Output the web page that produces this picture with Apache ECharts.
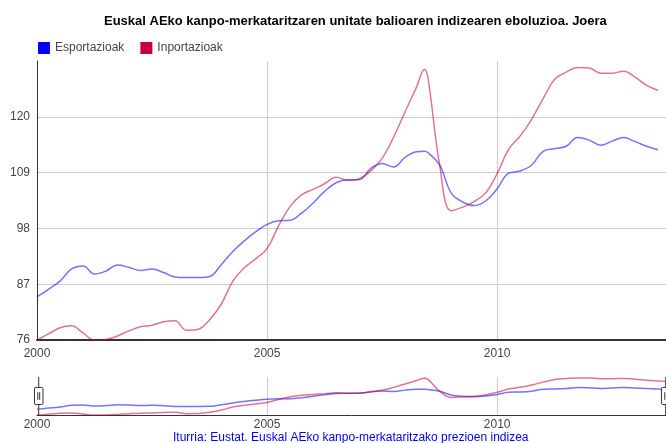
<!DOCTYPE html>
<html>
<head>
<meta charset="utf-8">
<script src="https://cdn.jsdelivr.net/npm/echarts@6/dist/echarts.min.js"></script>
<style>
  html, body { margin: 0; padding: 0; background: #fff; }
  #chart { width: 666px; height: 443px; }
</style>
</head>
<body>
<div id="chart"></div>
<script>
// urteak (hiruhilekoak, gailurrean puntu gehigarri bat)
var years = [
  2000.00, 2000.25, 2000.50, 2000.75, 2001.00, 2001.25, 2001.50, 2001.75,
  2002.00, 2002.25, 2002.50, 2002.75, 2003.00, 2003.25, 2003.50, 2003.75,
  2004.00, 2004.25, 2004.50, 2004.75, 2005.00, 2005.25, 2005.50, 2005.75,
  2006.00, 2006.25, 2006.50, 2006.75, 2007.00, 2007.25, 2007.50, 2007.75,
  2008.00, 2008.25, 2008.42, 2008.50, 2008.75, 2009.00, 2009.25, 2009.50,
  2009.75, 2010.00, 2010.25, 2010.50, 2010.75, 2011.00, 2011.25, 2011.50,
  2011.75, 2012.00, 2012.25, 2012.50, 2012.75, 2013.00, 2013.25, 2013.50,
  2013.75
];
var esportazioak = [
  84.5, 86.0, 87.6, 90.0, 90.6, 89.0, 89.6, 90.8,
  90.3, 89.7, 90.0, 89.3, 88.4, 88.3, 88.3, 88.5,
  90.8, 93.4, 95.5, 97.3, 98.8, 99.5, 99.6, 101.0,
  103.0, 105.3, 107.0, 107.6, 107.6, 109.8, 110.8, 110.1,
  112.0, 113.1, 113.2, 112.9, 110.5, 105.0, 103.2, 102.5,
  103.4, 105.8, 108.9, 109.3, 110.5, 113.2, 113.7, 114.2,
  115.9, 115.4, 114.4, 115.2, 115.9, 115.1, 114.2, 113.5,
  112.8
];
var inportazioak = [
  76.0, 77.2, 78.4, 78.8, 77.4, 76.0, 76.1, 76.8,
  77.8, 78.6, 78.9, 79.6, 79.8, 77.9, 78.1, 80.0,
  83.0, 87.5, 90.2, 92.0, 94.0, 98.5, 102.3, 104.6,
  105.7, 106.8, 108.1, 107.5, 107.8, 109.3, 111.8, 116.0,
  121.0, 125.9, 129.3, 127.5, 110.5, 101.5, 102.2, 103.3,
  105.0, 108.8, 113.6, 116.2, 119.5, 123.6, 127.4, 128.8,
  129.7, 129.6, 128.6, 128.6, 129.0, 127.8, 126.2, 125.2,
  124.3
];
var yearTicks = [2000, 2005, 2010];

function pairs(vals) {
  var out = [];
  for (var i = 0; i < years.length; i++) {
    out.push([years[i], vals[i]]);
  }
  return out;
}

var chartDom = document.getElementById('chart');
var myChart = echarts.init(chartDom);
var option;

var xMin = 2000, xMax = 2013.67;
var fontFam = 'Arial, "Liberation Sans", sans-serif';
var labelStyle = { color: '#444', fontFamily: fontFam, fontSize: 12 };
var yearFormatter = function (v) { return yearTicks.indexOf(v) >= 0 ? String(v) : ''; };

function lineSeries(name, vals, color, axisIdx) {
  return {
    name: name,
    type: 'line',
    xAxisIndex: axisIdx, yAxisIndex: axisIdx,
    data: pairs(vals),
    smooth: 0.4,
    showSymbol: false,
    silent: axisIdx === 1,
    color: color,
    lineStyle: { width: 1.5, opacity: 0.55 }
  };
}

option = {
  animation: false,
  title: {
    text: 'Euskal AEko kanpo-merkataritzaren unitate balioaren indizearen eboluzioa. Joera',
    left: 99,
    top: 10,
    textStyle: { fontFamily: fontFam, fontSize: 13, fontWeight: 'bold', color: '#000' }
  },
  legend: {
    left: 33,
    top: 37,
    icon: 'rect',
    itemWidth: 12,
    itemHeight: 12,
    itemGap: 16,
    textStyle: { color: '#444', fontFamily: fontFam, fontSize: 12 },
    data: ['Esportazioak', 'Inportazioak']
  },
  grid: [
    { left: 37, right: 0, top: 61, height: 279 },
    { left: 37, right: 0, top: 377, height: 38 }
  ],
  xAxis: [
    {
      type: 'value', gridIndex: 0, min: xMin, max: xMax, interval: 5,
      axisLine: { show: true, onZero: false, lineStyle: { color: '#333', width: 2 } },
      axisTick: { show: false },
      axisLabel: Object.assign({ showMaxLabel: false, margin: 8, formatter: yearFormatter }, labelStyle),
      splitLine: { show: true, showMinLine: false, showMaxLine: false, lineStyle: { color: '#ccc', width: 1 } }
    },
    {
      type: 'value', gridIndex: 1, min: xMin, max: xMax, interval: 5,
      axisLine: { show: true, onZero: false, lineStyle: { color: '#333', width: 1 } },
      axisTick: { show: false },
      axisLabel: Object.assign({ showMaxLabel: false, margin: 4, formatter: yearFormatter }, labelStyle),
      splitLine: { show: true, showMinLine: false, showMaxLine: false, lineStyle: { color: '#ccc', width: 1 } }
    }
  ],
  yAxis: [
    {
      type: 'value', gridIndex: 0, min: 76, max: 131, interval: 11,
      axisLine: { show: true, lineStyle: { color: '#333', width: 1 } },
      axisTick: { show: false },
      axisLabel: Object.assign({ showMaxLabel: false, margin: 7 }, labelStyle),
      splitLine: { show: true, showMinLine: false, showMaxLine: false, lineStyle: { color: '#ccc', width: 1 } }
    },
    {
      type: 'value', gridIndex: 1, min: 76, max: 131, show: false,
      splitLine: { show: false }
    }
  ],
  dataZoom: [
    {
      type: 'slider',
      xAxisIndex: 0,
      start: 0,
      end: 100,
      left: 37,
      right: 0,
      top: 377,
      height: 38,
      showDataShadow: false,
      showDetail: false,
      brushSelect: false,
      moveHandleSize: 0,
      backgroundColor: 'rgba(0,0,0,0)',
      borderColor: 'rgba(0,0,0,0)',
      fillerColor: 'rgba(0,0,0,0)',
      handleIcon: 'path://M5,0V11 M5,29V40 M2,11h6a1.5,1.5,0,0,1,1.5,1.5v15a1.5,1.5,0,0,1-1.5,1.5h-6a1.5,1.5,0,0,1-1.5-1.5v-15a1.5,1.5,0,0,1,1.5-1.5Z M4,16V24 M6,16V24',
      handleSize: '100%',
      handleStyle: { color: '#fff', borderColor: '#333', borderWidth: 1 }
    }
  ],
  series: [
    lineSeries('Esportazioak', esportazioak, '#0000ff', 0),
    lineSeries('Inportazioak', inportazioak, '#c8003c', 0),
    lineSeries('Esportazioak', esportazioak, '#0000ff', 1),
    lineSeries('Inportazioak', inportazioak, '#c8003c', 1)
  ],
  graphic: [
    {
      type: 'text',
      left: 173,
      top: 432,
      style: {
        text: 'Iturria: Eustat. Euskal AEko kanpo-merkataritzako prezioen indizea',
        fill: '#0000ff',
        font: '12px Arial, "Liberation Sans", sans-serif'
      }
    }
  ]
};

option && myChart.setOption(option);
</script>
</body>
</html>
